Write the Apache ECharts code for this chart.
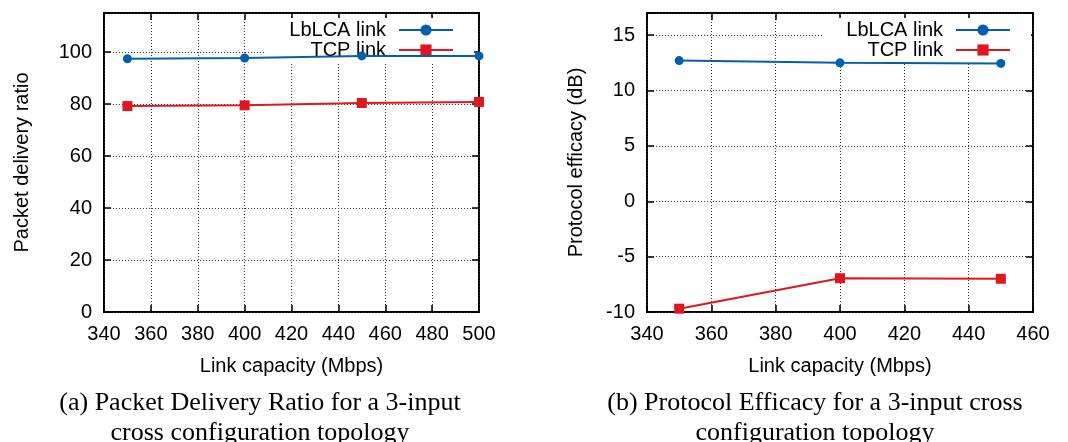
<!DOCTYPE html>
<html>
<head>
<meta charset="utf-8">
<script src="https://cdn.jsdelivr.net/npm/echarts@6/dist/echarts.min.js"></script>
<style>
  html, body { margin: 0; padding: 0; background: #fff; }
  #chart { width: 1068px; height: 442px; }
</style>
</head>
<body>
<div id="chart"></div>
<script>
// Panel (a): packet delivery ratio vs link capacity
const capacityA = [350, 400, 450, 500];
const pdrLbLCA = [97.4, 97.7, 98.5, 98.5];
const pdrTCP = [79.2, 79.5, 80.4, 80.8];

// Panel (b): protocol efficacy vs link capacity
const capacityB = [350, 400, 450];
const effLbLCA = [12.7, 12.5, 12.45];
const effTCP = [-9.7, -6.95, -7.0];

const seriesNames = ['LbLCA link', 'TCP link'];
const xTitle = 'Link capacity (Mbps)';
const yTitles = ['Packet delivery ratio', 'Protocol efficacy (dB)'];
const captions = [
  '(a) Packet Delivery Ratio for a 3-input\ncross configuration topology',
  '(b) Protocol Efficacy for a 3-input cross\nconfiguration topology'
];

const SANS = '"Liberation Sans", Arial, Helvetica, sans-serif';
const SERIF = '"Liberation Serif", "Times New Roman", serif';
const BLUE = '#0060ad';
const RED = '#dd181f';

const pairs = (xs, ys) => xs.map((x, i) => [x, ys[i]]);

const grids = [
  { left: 104, top: 13, width: 375, height: 299 },
  { left: 647, top: 13, width: 386, height: 299 }
].map(g => Object.assign(g, {
  show: true, borderColor: '#000', borderWidth: 2, backgroundColor: 'transparent'
}));

const noLine = { show: false, onZero: false };
const tickStyle = { show: true, inside: true, length: 7, lineStyle: { color: '#000', width: 1.5 } };
const gridLine = { show: true, lineStyle: { color: '#333', width: 1, type: [1, 2] } };
const labelStyle = { color: '#000', fontSize: 20, fontFamily: SANS };

function mainX(gi, min, max) {
  return {
    gridIndex: gi, type: 'value', position: 'bottom', min, max, interval: 20,
    axisLine: noLine, axisTick: tickStyle, splitLine: gridLine,
    axisLabel: Object.assign({ margin: 12 }, labelStyle),
    name: xTitle, nameLocation: 'middle', nameGap: 44,
    nameTextStyle: labelStyle
  };
}
function mirrorX(gi, min, max) {
  return {
    gridIndex: gi, type: 'value', position: 'top', min, max, interval: 20,
    axisLine: noLine, axisTick: tickStyle, splitLine: { show: false },
    axisLabel: { show: false }
  };
}
function mainY(gi, min, max, step, gap) {
  return {
    gridIndex: gi, type: 'value', position: 'left', min, max, interval: step,
    axisLine: noLine, axisTick: tickStyle, splitLine: gridLine,
    axisLabel: Object.assign({
      margin: 12,
      formatter: v => (v % step === 0 ? String(v) : '')
    }, labelStyle),
    name: yTitles[gi], nameLocation: 'middle', nameGap: gap,
    nameTextStyle: labelStyle
  };
}
function mirrorY(gi, min, max, step) {
  return {
    gridIndex: gi, type: 'value', position: 'right', min, max, interval: step,
    axisLine: noLine, axisTick: tickStyle, splitLine: { show: false },
    axisLabel: { show: false }
  };
}

function lineSeries(name, color, symbol, size, xi, yi, data) {
  return {
    name, type: 'line', xAxisIndex: xi, yAxisIndex: yi, data,
    symbol, symbolSize: size, showSymbol: true, z: 3,
    lineStyle: { color, width: 2 }, itemStyle: { color },
    emphasis: { disabled: true }, animation: false
  };
}

function legendFor(right) {
  return {
    data: seriesNames, orient: 'vertical', align: 'right',
    right, top: 18, z: 1,
    backgroundColor: '#fff', padding: [2, 20, 4, 24],
    itemWidth: 54, itemHeight: 14, itemGap: 0,
    textStyle: { color: '#000', fontSize: 20, fontFamily: SANS, lineHeight: 20, padding: [0, 8, 0, 0] },
    selectedMode: false
  };
}

const option = {
  animation: false,
  backgroundColor: '#fff',
  grid: grids,
  xAxis: [mainX(0, 340, 500), mirrorX(0, 340, 500), mainX(1, 340, 460), mirrorX(1, 340, 460)],
  yAxis: [mainY(0, 0, 115, 20, 72), mirrorY(0, 0, 115, 20), mainY(1, -10, 17, 5, 61), mirrorY(1, -10, 17, 5)],
  legend: [legendFor(594), legendFor(37)],
  series: [
    lineSeries(seriesNames[0], BLUE, 'circle', 9, 0, 0, pairs(capacityA, pdrLbLCA)),
    lineSeries(seriesNames[1], RED, 'rect', 10, 0, 0, pairs(capacityA, pdrTCP)),
    lineSeries(seriesNames[0], BLUE, 'circle', 9, 2, 2, pairs(capacityB, effLbLCA)),
    lineSeries(seriesNames[1], RED, 'rect', 10, 2, 2, pairs(capacityB, effTCP))
  ],
  graphic: [
    { type: 'text', x: 260, y: 418, z: 10,
      style: { text: captions[0], fill: '#000', font: '26px ' + SERIF, textAlign: 'center', textVerticalAlign: 'middle', lineHeight: 30 } },
    { type: 'text', x: 815, y: 418, z: 10,
      style: { text: captions[1], fill: '#000', font: '26px ' + SERIF, textAlign: 'center', textVerticalAlign: 'middle', lineHeight: 30 } }
  ]
};

const chart = echarts.init(document.getElementById('chart'), null, { renderer: 'canvas' });
chart.setOption(option);
</script>
</body>
</html>
